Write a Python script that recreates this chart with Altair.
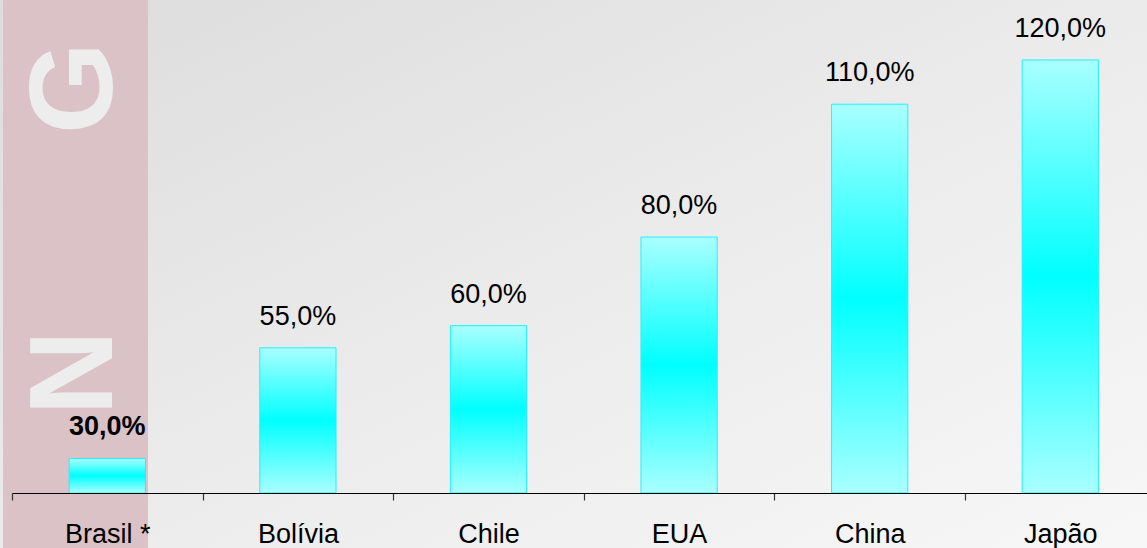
import altair as alt
import pandas as pd

countries = ["Brasil *", "Bolívia", "Chile", "EUA", "China", "Japão"]
values = [30.0, 55.0, 60.0, 80.0, 110.0, 120.0]
labels = ["30,0%", "55,0%", "60,0%", "80,0%", "110,0%", "120,0%"]
bold = [True, False, False, False, False, False]

df = pd.DataFrame({"pais": countries, "valor": values, "rotulo": labels,
                   "negrito": bold})

W = 1135
H = 488
PAD_L = 12
PAD_T = 5
PAD_B = 548 - H - PAD_T
Y_MIN, Y_MAX = 22.2, 132.4
STEP_RANGE = 1143.6

xs = alt.X("pais:N", sort=countries,
           scale=alt.Scale(range=[0, STEP_RANGE], paddingInner=0, paddingOuter=0),
           axis=alt.Axis(title=None, labelAngle=0, tickBand="extent", zindex=2,
                         labelFont="Liberation Sans", labelFontSize=27,
                         labelColor="#000000", domainColor="#000000",
                         tickColor="#333333", tickSize=7, labelPadding=21,
                         domainWidth=1.2, tickWidth=1.2))
ys = alt.Y("valor:Q", scale=alt.Scale(domain=[Y_MIN, Y_MAX], zero=False, nice=False),
           axis=None)

bg_grad = alt.Gradient(gradient="linear", x1=0, y1=0, x2=1, y2=1,
                       stops=[alt.GradientStop(color="#dcdcdc", offset=0),
                              alt.GradientStop(color="#ebebeb", offset=0.5),
                              alt.GradientStop(color="#f7f7f7", offset=1)])

bg = alt.Chart(df).mark_rect(fill=bg_grad).encode(
    x=alt.value(-PAD_L), x2=alt.value(W), y=alt.value(-PAD_T), y2=alt.value(H + PAD_B)
).transform_filter(alt.datum.pais == "Brasil *")

band = alt.Chart(df).mark_rect(fill="#dbc2c7").encode(
    x=alt.value(3 - PAD_L), x2=alt.value(148 - PAD_L),
    y=alt.value(-PAD_T), y2=alt.value(H + PAD_B)
).transform_filter(alt.datum.pais == "Brasil *")

wm_df = pd.DataFrame({"letra": ["G", "N"], "ypos": [88 - PAD_T, 373 - PAD_T]})
wm = alt.Chart(wm_df).mark_text(
    angle=270, font="Liberation Sans", fontWeight="bold", fontSize=118,
    color="#ededed", align="center", baseline="middle"
).encode(x=alt.value(77 - PAD_L), y=alt.Y("ypos:Q", scale=None), text="letra:N")

bar_grad = alt.Gradient(gradient="linear", x1=0, y1=0, x2=0, y2=1,
                        stops=[alt.GradientStop(color="#aaffff", offset=0),
                               alt.GradientStop(color="#00ffff", offset=0.5),
                               alt.GradientStop(color="#aaffff", offset=1)])

bars = alt.Chart(df).mark_bar(fill=bar_grad, stroke="#22f0ff", strokeWidth=1,
                              width=alt.RelativeBandSize(0.4)).encode(
    x=xs, y=ys, y2=alt.datum(Y_MIN))

text_enc = dict(x=alt.X("pais:N", sort=countries), y="valor:Q", text="rotulo:N")
text_bold = alt.Chart(df).mark_text(font="Liberation Sans", fontSize=27, color="#000000",
                                    fontWeight="bold", baseline="alphabetic", dy=-23
                                    ).encode(**text_enc).transform_filter(alt.datum.negrito)
text_norm = alt.Chart(df).mark_text(font="Liberation Sans", fontSize=27, color="#000000",
                                    baseline="alphabetic", dy=-23
                                    ).encode(**text_enc).transform_filter(~alt.datum.negrito)

chart = alt.layer(bg, band, wm, bars, text_bold, text_norm).properties(
    width=W, height=H,
    autosize=alt.AutoSizeParams(type="none"),
    padding={"left": PAD_L, "top": PAD_T, "right": 0, "bottom": PAD_B},
    background="#eeeeee"
).configure_view(stroke=None)

chart.save("out.html", embed_options={"renderer": "svg", "actions": False})
